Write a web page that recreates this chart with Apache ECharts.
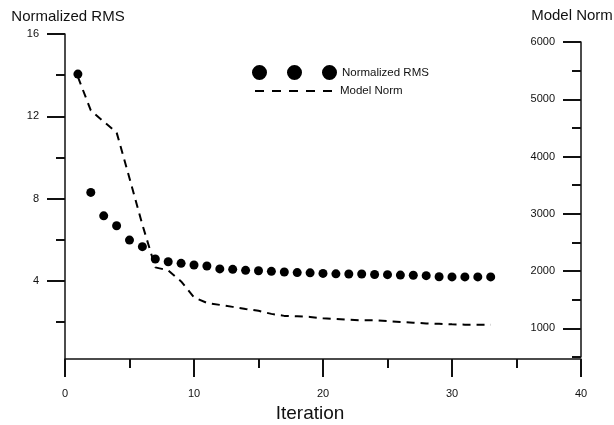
<!doctype html>
<html>
    <head>
        <meta charset="utf-8">
        <title>Normalized RMS / Model Norm</title>
        <style>
            html, body { margin: 0; padding: 0; background: #fff; }
            #main { width: 614px; height: 425px; }
        </style>
    </head>
    <body>
        <div id="main"></div>
        <script src="https://cdn.jsdelivr.net/npm/echarts@6/dist/echarts.min.js"></script>
        <script>
            // values
            var iterations = [1, 2, 3, 4, 5, 6, 7, 8, 9, 10, 11, 12, 13, 14, 15, 16, 17,
                18, 19, 20, 21, 22, 23, 24, 25, 26, 27, 28, 29, 30, 31, 32, 33];
            var rmsValues = [14.05, 8.3, 7.16, 6.68, 5.98, 5.66, 5.06, 4.93, 4.85, 4.77, 4.72,
                4.58, 4.56, 4.51, 4.49, 4.46, 4.43, 4.4, 4.39, 4.36, 4.34, 4.33, 4.33, 4.31,
                4.3, 4.28, 4.27, 4.25, 4.2, 4.19, 4.19, 4.19, 4.19];
            var normValues = [5390, 4806, 4609, 4422, 3622, 2809, 2065, 2013, 1820, 1541, 1445,
                1410, 1375, 1340, 1306, 1253, 1218, 1210, 1200, 1175, 1166, 1150, 1140, 1140,
                1126, 1110, 1100, 1087, 1079, 1070, 1065, 1065, 1065];
            var rmsMajorTicks = [4, 8, 12, 16];
            var rmsMinorTicks = [2, 6, 10, 14];
            var normMajorTicks = [1000, 2000, 3000, 4000, 5000, 6000];
            var normMinorTicks = [500, 1500, 2500, 3500, 4500, 5500];

            var chart = echarts.init(document.getElementById('main'));

            var ink = '#111';
            var font = 'Liberation Sans, Arial, sans-serif';
            var threeDots = 'path://M0,7.5a7.5,7.5 0 1,0 15,0a7.5,7.5 0 1,0 -15,0z' +
                'M35,7.5a7.5,7.5 0 1,0 15,0a7.5,7.5 0 1,0 -15,0z' +
                'M70,7.5a7.5,7.5 0 1,0 15,0a7.5,7.5 0 1,0 -15,0z';
            var fiveDashes = 'path://M0,0h9v2h-9z M17,0h9v2h-9z M34,0h9v2h-9z M51,0h9v2h-9z M68,0h9v2h-9z';

            var rmsRect = { left: 65, right: 33, top: 34, bottom: 66, outerBoundsMode: 'none' };
            var normRect = { left: 65, right: 33, top: 42, bottom: 68, outerBoundsMode: 'none' };

            function plainNumber(v) { return String(v); }

            function hiddenX(grid) {
                return { type: 'value', gridIndex: grid, min: 0, max: 40, show: false };
            }

            // grids 0/2 share the RMS box, grids 1/3 the Model Norm box;
            // the copies only carry the short ticks
            var yAxes = [{
                type: 'value', gridIndex: 0, position: 'left', min: 0.2, max: 16,
                name: 'Normalized RMS',
                nameLocation: 'end',
                nameGap: 10,
                nameTextStyle: { fontSize: 15, color: ink, fontFamily: font, padding: [0, 0, 0, 6] },
                axisLine: { show: true, onZero: false, lineStyle: { color: ink, width: 1.5 } },
                axisTick: { show: true, length: 18, customValues: rmsMajorTicks, lineStyle: { color: ink, width: 2 } },
                axisLabel: { customValues: rmsMajorTicks, margin: 26, fontSize: 11, color: ink, fontFamily: font, formatter: plainNumber },
                splitLine: { show: false }
            }, {
                type: 'value', gridIndex: 1, position: 'right', min: 500, max: 6000,
                name: 'Model Norm',
                nameLocation: 'end',
                nameGap: 19,
                nameTextStyle: { fontSize: 15, color: ink, fontFamily: font, padding: [0, 18, 0, 0] },
                axisLine: { show: true, onZero: false, lineStyle: { color: ink, width: 1.5 } },
                axisTick: { show: true, inside: true, length: 18, customValues: normMajorTicks, lineStyle: { color: ink, width: 2 } },
                axisLabel: { inside: true, customValues: normMajorTicks, margin: 26, fontSize: 11, color: ink, fontFamily: font, formatter: plainNumber },
                splitLine: { show: false }
            }, {
                type: 'value', gridIndex: 2, position: 'left', min: 0.2, max: 16,
                axisLine: { show: false, onZero: false },
                axisTick: { show: true, length: 9, customValues: rmsMinorTicks, lineStyle: { color: ink, width: 2 } },
                axisLabel: { show: false },
                splitLine: { show: false }
            }, {
                type: 'value', gridIndex: 3, position: 'right', min: 500, max: 6000,
                axisLine: { show: false, onZero: false },
                axisTick: { show: true, inside: true, length: 9, customValues: normMinorTicks, lineStyle: { color: ink, width: 2 } },
                axisLabel: { show: false },
                splitLine: { show: false }
            }];

            chart.setOption({
                backgroundColor: '#fff',
                animation: false,
                grid: [rmsRect, normRect, rmsRect, normRect],
                legend: [{
                    data: ['Normalized RMS'],
                    left: 247, top: 60,
                    icon: threeDots,
                    itemWidth: 85, itemHeight: 15,
                    textStyle: { fontSize: 11.5, color: ink, fontFamily: font }
                }, {
                    data: [{ name: 'Model Norm', icon: fiveDashes }],
                    left: 250, top: 80,
                    itemWidth: 77, itemHeight: 2,
                    itemStyle: { color: '#000' },
                    textStyle: { fontSize: 11.5, color: ink, fontFamily: font, padding: [0, 0, 0, 3] }
                }],
                xAxis: [{
                    type: 'value', gridIndex: 0, min: 0, max: 40, interval: 10,
                    name: 'Iteration',
                    nameLocation: 'middle',
                    nameGap: 42,
                    nameTextStyle: { fontSize: 19, color: ink, fontFamily: font, padding: [0, 26, 0, 0] },
                    axisLine: { onZero: false, lineStyle: { color: ink, width: 1.5 } },
                    axisTick: { show: true, length: 18, lineStyle: { color: ink, width: 2 } },
                    minorTick: { show: true, splitNumber: 2, length: 9, lineStyle: { color: ink, width: 2 } },
                    axisLabel: { margin: 29, fontSize: 11, color: ink, fontFamily: font },
                    splitLine: { show: false }
                }, hiddenX(1), hiddenX(2), hiddenX(3)],
                yAxis: yAxes,
                series: [{
                    name: 'Normalized RMS',
                    type: 'scatter',
                    xAxisIndex: 0, yAxisIndex: 0,
                    symbolSize: 9,
                    itemStyle: { color: '#000', opacity: 1 },
                    data: iterations.map(function (it, i) { return [it, rmsValues[i]]; })
                }, {
                    name: 'Model Norm',
                    type: 'line',
                    xAxisIndex: 1, yAxisIndex: 1,
                    symbol: 'none',
                    lineStyle: { color: '#000', width: 2, type: [8, 6] },
                    itemStyle: { color: '#000' },
                    data: iterations.map(function (it, i) { return [it, normValues[i]]; })
                }]
            });

            window.onresize = chart.resize;
        </script>
    </body>
</html>
